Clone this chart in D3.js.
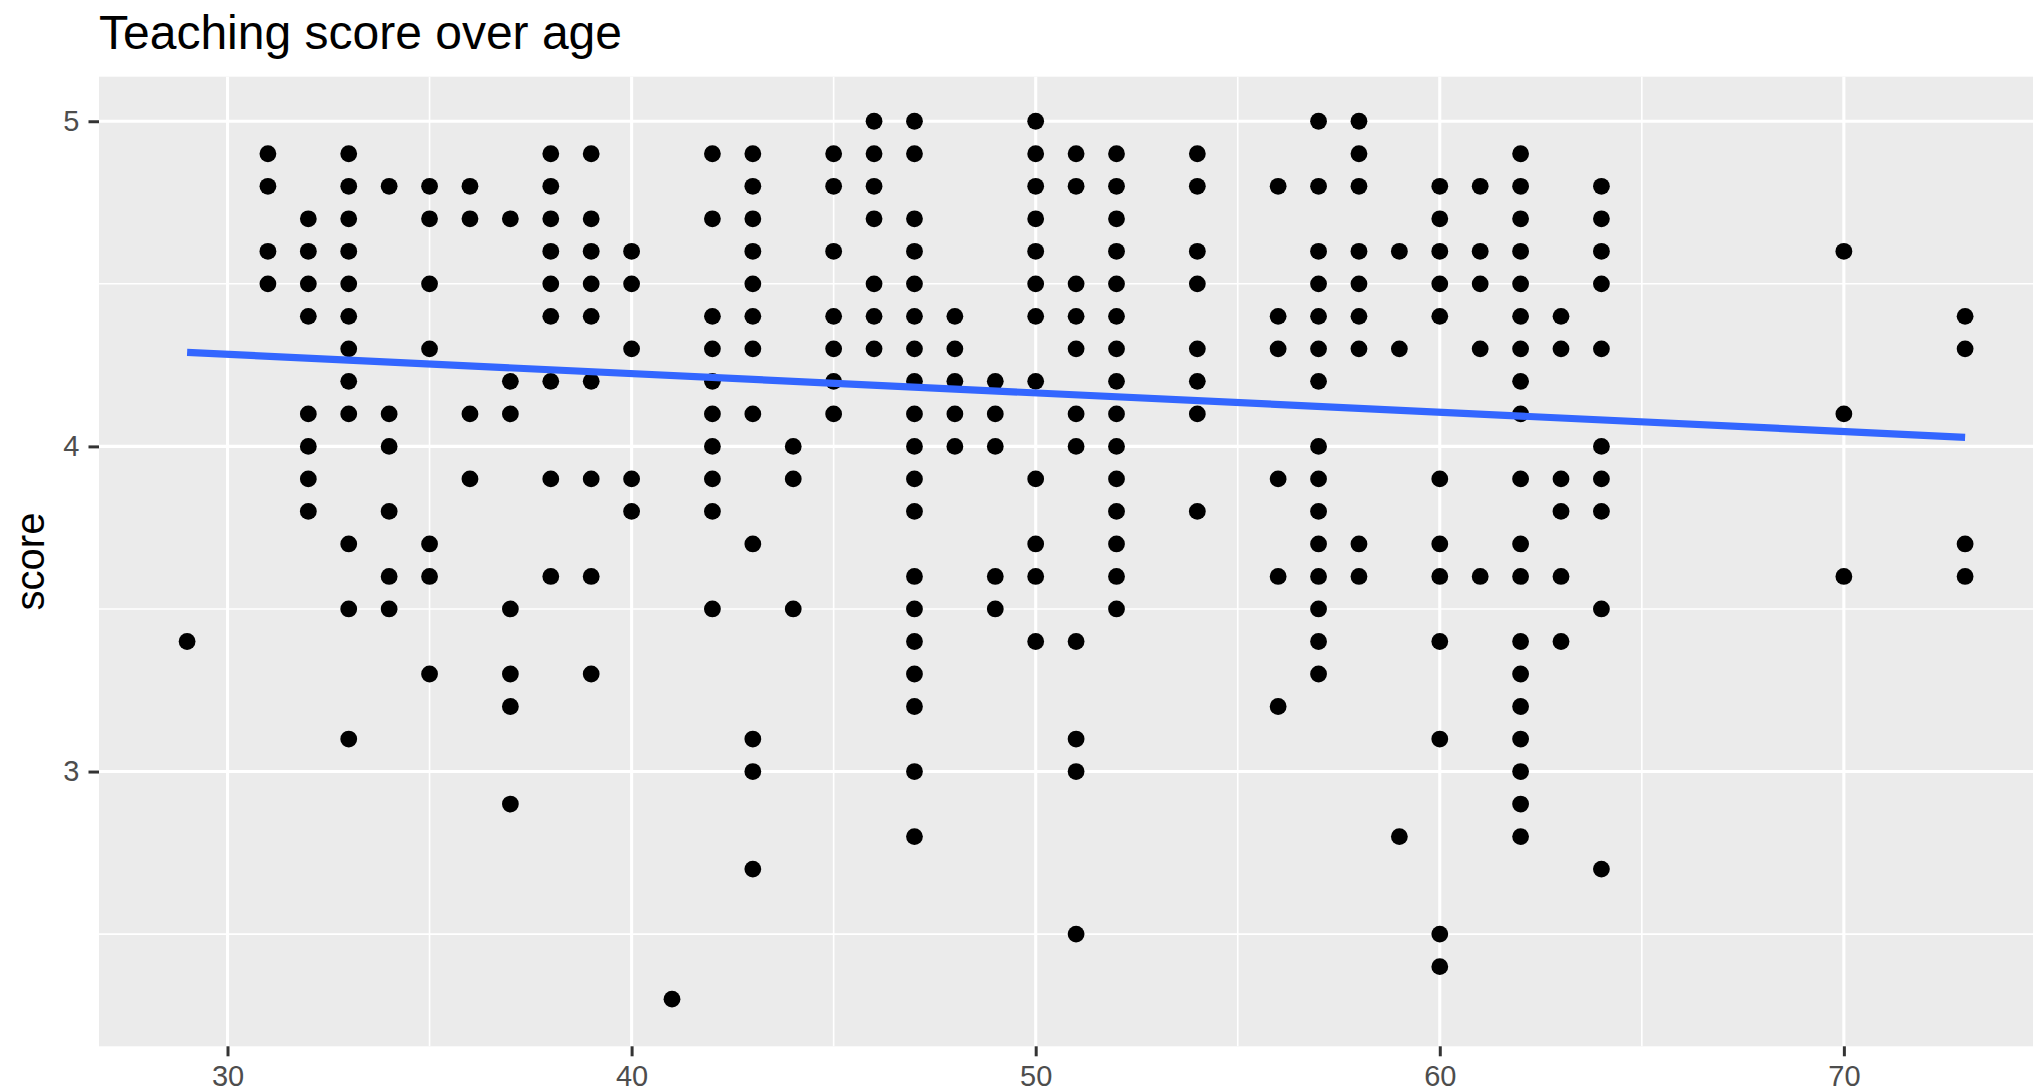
<!DOCTYPE html>
<html>
<head>
<meta charset="utf-8">
<script src="https://cdn.jsdelivr.net/npm/d3@7"></script>
<style>
  html, body { margin: 0; padding: 0; background: #ffffff; }
  svg { display: block; font-family: "Liberation Sans", Arial, Helvetica, sans-serif; }
</style>
</head>
<body>
<svg id="chart" width="2033" height="1087"></svg>
<script>
// ---- data ----
const ages = [29, 31, 32, 33, 34, 35, 36, 37, 38, 39, 40, 41, 42, 43, 44, 45, 46, 47, 48, 49, 50, 51, 52, 54, 56, 57, 58, 59, 60, 61, 62, 63, 64, 70, 73];
const scoresByAge = [
  [3.4],
  [4.9, 4.8, 4.6, 4.5],
  [4.7, 4.6, 4.5, 4.4, 4.1, 4.0, 3.9, 3.8],
  [4.9, 4.8, 4.7, 4.6, 4.5, 4.4, 4.3, 4.2, 4.1, 3.7, 3.5, 3.1],
  [4.8, 4.1, 4.0, 3.8, 3.6, 3.5],
  [4.8, 4.7, 4.5, 4.3, 3.7, 3.6, 3.3],
  [4.8, 4.7, 4.1, 3.9],
  [4.7, 4.2, 4.1, 3.5, 3.3, 3.2, 2.9],
  [4.9, 4.8, 4.7, 4.6, 4.5, 4.4, 4.2, 3.9, 3.6],
  [4.9, 4.7, 4.6, 4.5, 4.4, 4.2, 3.9, 3.6, 3.3],
  [4.6, 4.5, 4.3, 3.9, 3.8],
  [2.3],
  [4.9, 4.7, 4.4, 4.3, 4.2, 4.1, 4.0, 3.9, 3.8, 3.5],
  [4.9, 4.8, 4.7, 4.6, 4.5, 4.4, 4.3, 4.1, 3.7, 3.1, 3.0, 2.7],
  [4.0, 3.9, 3.5],
  [4.9, 4.8, 4.6, 4.4, 4.3, 4.2, 4.1],
  [5.0, 4.9, 4.8, 4.7, 4.5, 4.4, 4.3],
  [5.0, 4.9, 4.7, 4.6, 4.5, 4.4, 4.3, 4.2, 4.1, 4.0, 3.9, 3.8, 3.6, 3.5, 3.4, 3.3, 3.2, 3.0, 2.8],
  [4.4, 4.3, 4.2, 4.1, 4.0],
  [4.2, 4.1, 4.0, 3.6, 3.5],
  [5.0, 4.9, 4.8, 4.7, 4.6, 4.5, 4.4, 4.2, 3.9, 3.7, 3.6, 3.4],
  [4.9, 4.8, 4.5, 4.4, 4.3, 4.1, 4.0, 3.4, 3.1, 3.0, 2.5],
  [4.9, 4.8, 4.7, 4.6, 4.5, 4.4, 4.3, 4.2, 4.1, 4.0, 3.9, 3.8, 3.7, 3.6, 3.5],
  [4.9, 4.8, 4.6, 4.5, 4.3, 4.2, 4.1, 3.8],
  [4.8, 4.4, 4.3, 3.9, 3.6, 3.2],
  [5.0, 4.8, 4.6, 4.5, 4.4, 4.3, 4.2, 4.0, 3.9, 3.8, 3.7, 3.6, 3.5, 3.4, 3.3],
  [5.0, 4.9, 4.8, 4.6, 4.5, 4.4, 4.3, 3.7, 3.6],
  [4.6, 4.3, 2.8],
  [4.8, 4.7, 4.6, 4.5, 4.4, 3.9, 3.7, 3.6, 3.4, 3.1, 2.5, 2.4],
  [4.8, 4.6, 4.5, 4.3, 3.6],
  [4.9, 4.8, 4.7, 4.6, 4.5, 4.4, 4.3, 4.2, 4.1, 3.9, 3.7, 3.6, 3.4, 3.3, 3.2, 3.1, 3.0, 2.9, 2.8],
  [4.4, 4.3, 3.9, 3.8, 3.6, 3.4],
  [4.8, 4.7, 4.6, 4.5, 4.3, 4.0, 3.9, 3.8, 3.5, 2.7],
  [4.6, 4.1, 3.6],
  [4.4, 4.3, 3.7, 3.6]
];
// fitted linear trend
const fitAges = [29, 73];
const fitScores = [4.289, 4.028];

const xMajorTicks = [30, 40, 50, 60, 70];
const xMinorTicks = [35, 45, 55, 65, 75];
const yMajorTicks = [3, 4, 5];
const yMinorTicks = [2.5, 3.5, 4.5];
const titleText = "Teaching score over age";
const yLabelText = "score";

// ---- layout ----
const W = 2033, H = 1087;
const panel = { left: 99, right: 2054, top: 76.7, bottom: 1046.3 };

const points = [];
ages.forEach((a, i) => scoresByAge[i].forEach(s => points.push({ age: a, score: s })));

const xScale = d3.scaleLinear().domain([26.8, 75.2]).range([panel.left - 0.8, panel.right]);
const yScale = d3.scaleLinear().domain([2.155, 5.137]).range([panel.bottom, panel.top]);

const svg = d3.select("#chart");

// panel background
svg.append("rect")
  .attr("x", panel.left).attr("y", panel.top)
  .attr("width", panel.right - panel.left).attr("height", panel.bottom - panel.top)
  .attr("fill", "#EBEBEB");

const grid = svg.append("g");
// minor grid
grid.selectAll("line.xminor").data(xMinorTicks).join("line")
  .attr("x1", d => xScale(d)).attr("x2", d => xScale(d))
  .attr("y1", panel.top).attr("y2", panel.bottom)
  .attr("stroke", "#ffffff").attr("stroke-width", 1.6);
grid.selectAll("line.yminor").data(yMinorTicks).join("line")
  .attr("x1", panel.left).attr("x2", panel.right)
  .attr("y1", d => yScale(d)).attr("y2", d => yScale(d))
  .attr("stroke", "#ffffff").attr("stroke-width", 1.6);
// major grid
grid.selectAll("line.xmajor").data(xMajorTicks).join("line")
  .attr("x1", d => xScale(d)).attr("x2", d => xScale(d))
  .attr("y1", panel.top).attr("y2", panel.bottom)
  .attr("stroke", "#ffffff").attr("stroke-width", 3.1);
grid.selectAll("line.ymajor").data(yMajorTicks).join("line")
  .attr("x1", panel.left).attr("x2", panel.right)
  .attr("y1", d => yScale(d)).attr("y2", d => yScale(d))
  .attr("stroke", "#ffffff").attr("stroke-width", 3.1);

// points
svg.append("g").selectAll("circle").data(points).join("circle")
  .attr("cx", d => xScale(d.age))
  .attr("cy", d => yScale(d.score))
  .attr("r", 8.4)
  .attr("fill", "#000000");

// fitted line
svg.append("path")
  .datum(fitAges.map((a, i) => [a, fitScores[i]]))
  .attr("d", d3.line().x(d => xScale(d[0])).y(d => yScale(d[1])))
  .attr("fill", "none")
  .attr("stroke", "#3366FF")
  .attr("stroke-width", 7.2);

// axes
const xAxis = d3.axisBottom(xScale).tickValues(xMajorTicks).tickSize(10).tickPadding(9).tickFormat(d3.format("d"));
const gx = svg.append("g").attr("transform", `translate(0,${panel.bottom})`).call(xAxis);
gx.select(".domain").remove();
gx.selectAll(".tick line").attr("stroke", "#333333").attr("stroke-width", 3);
gx.selectAll(".tick text").attr("fill", "#4D4D4D").attr("font-size", 29)
  .attr("font-family", "Liberation Sans, Arial, sans-serif");

const yAxis = d3.axisLeft(yScale).tickValues(yMajorTicks).tickSize(10.5).tickPadding(9).tickFormat(d3.format("d"));
const gy = svg.append("g").attr("transform", `translate(${panel.left},0)`).call(yAxis);
gy.select(".domain").remove();
gy.selectAll(".tick line").attr("stroke", "#333333").attr("stroke-width", 3);
gy.selectAll(".tick text").attr("fill", "#4D4D4D").attr("font-size", 29)
  .attr("font-family", "Liberation Sans, Arial, sans-serif");

// y axis title
svg.append("text")
  .attr("transform", `translate(44,${(panel.top + panel.bottom) / 2}) rotate(-90)`)
  .attr("text-anchor", "middle")
  .attr("font-size", 40)
  .attr("fill", "#000000")
  .text(yLabelText);

// title
svg.append("text")
  .attr("x", panel.left).attr("y", 49)
  .attr("font-size", 48)
  .attr("fill", "#000000")
  .text(titleText);
</script>
</body>
</html>
